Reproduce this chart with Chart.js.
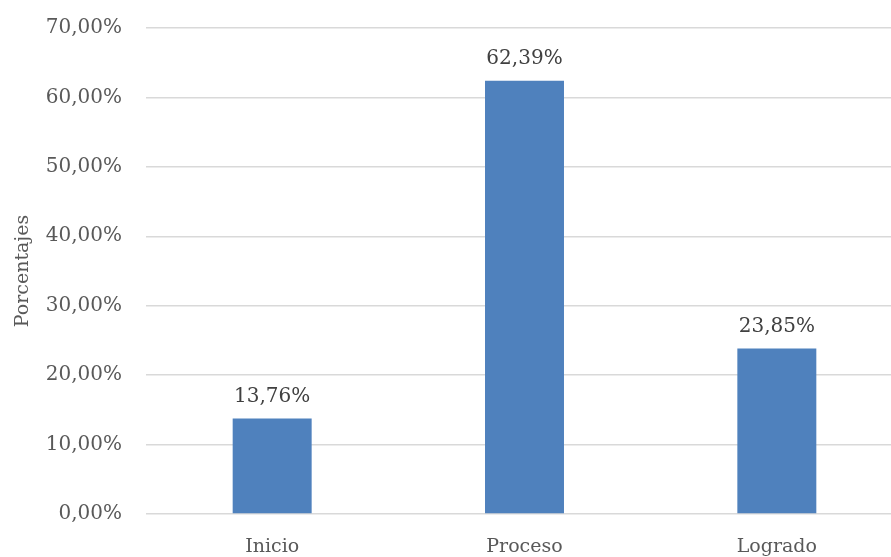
<!DOCTYPE html>
<html lang="es">
<head>
  <meta charset="UTF-8" />
  <title>Porcentajes</title>
  <style>
    html, body { margin: 0; padding: 0; background: #fff; overflow: hidden; }
    .caja { position: relative; width: 903px; height: 557px; }
  </style>
</head>
<body>
  <div class="caja">
    <canvas id="grafico"></canvas>
  </div>

  <script src="https://cdn.jsdelivr.net/npm/chart.js"></script>
  <script>
    // Datos
    const categorias = ['Inicio', 'Proceso', 'Logrado'];
    const porcentajes = [13.76, 62.39, 23.85];
    const marcasY = [0, 10, 20, 30, 40, 50, 60, 70];

    const fuente = 'DejaVu Serif';
    const formato = v => v.toFixed(2).replace('.', ',') + '%';

    // etiquetas encima de las barras
    const etiquetas = {
      id: 'etiquetas',
      afterDatasetsDraw(chart) {
        const ctx = chart.ctx;
        const meta = chart.getDatasetMeta(0);
        ctx.save();
        ctx.font = '20px "' + fuente + '"';
        ctx.fillStyle = '#404040';
        ctx.textAlign = 'center';
        ctx.textBaseline = 'bottom';
        meta.data.forEach((barra, i) => {
          ctx.fillText(formato(porcentajes[i]), barra.x, barra.y - 12);
        });
        ctx.restore();
      }
    };

    new Chart(document.getElementById('grafico'), {
      type: 'bar',
      data: {
        labels: categorias,
        datasets: [{
          data: porcentajes,
          backgroundColor: '#4F81BD',
          barPercentage: 0.313,
          categoryPercentage: 1
        }]
      },
      options: {
        responsive: true,
        maintainAspectRatio: false,
        animation: false,
        layout: { padding: { top: 28, left: 0, right: 0, bottom: 0 } },
        plugins: {
          legend: { display: false },
          tooltip: { enabled: false }
        },
        scales: {
          x: {
            grid: { display: false },
            border: { display: false },
            ticks: { color: '#595959', font: { family: fuente, size: 19 }, padding: 14 },
            afterFit(scale) { scale.height = 43; }
          },
          y: {
            min: 0,
            max: 70,
            afterBuildTicks(scale) { scale.ticks = marcasY.map(v => ({ value: v })); },
            grid: { color: '#D9D9D9', lineWidth: 1.5, drawTicks: false },
            border: { display: false },
            ticks: {
              color: '#595959',
              font: { family: fuente, size: 20 },
              padding: 24,
              callback: v => formato(v)
            },
            title: {
              display: true,
              text: 'Porcentajes',
              color: '#595959',
              font: { family: fuente, size: 19 },
              padding: { top: 12, bottom: 0 }
            },
            afterFit(scale) {
              scale.width = 146;
              scale.paddingTop = 0;
              scale.paddingBottom = 0;
            }
          }
        }
      },
      plugins: [etiquetas]
    });
  </script>
</body>
</html>
